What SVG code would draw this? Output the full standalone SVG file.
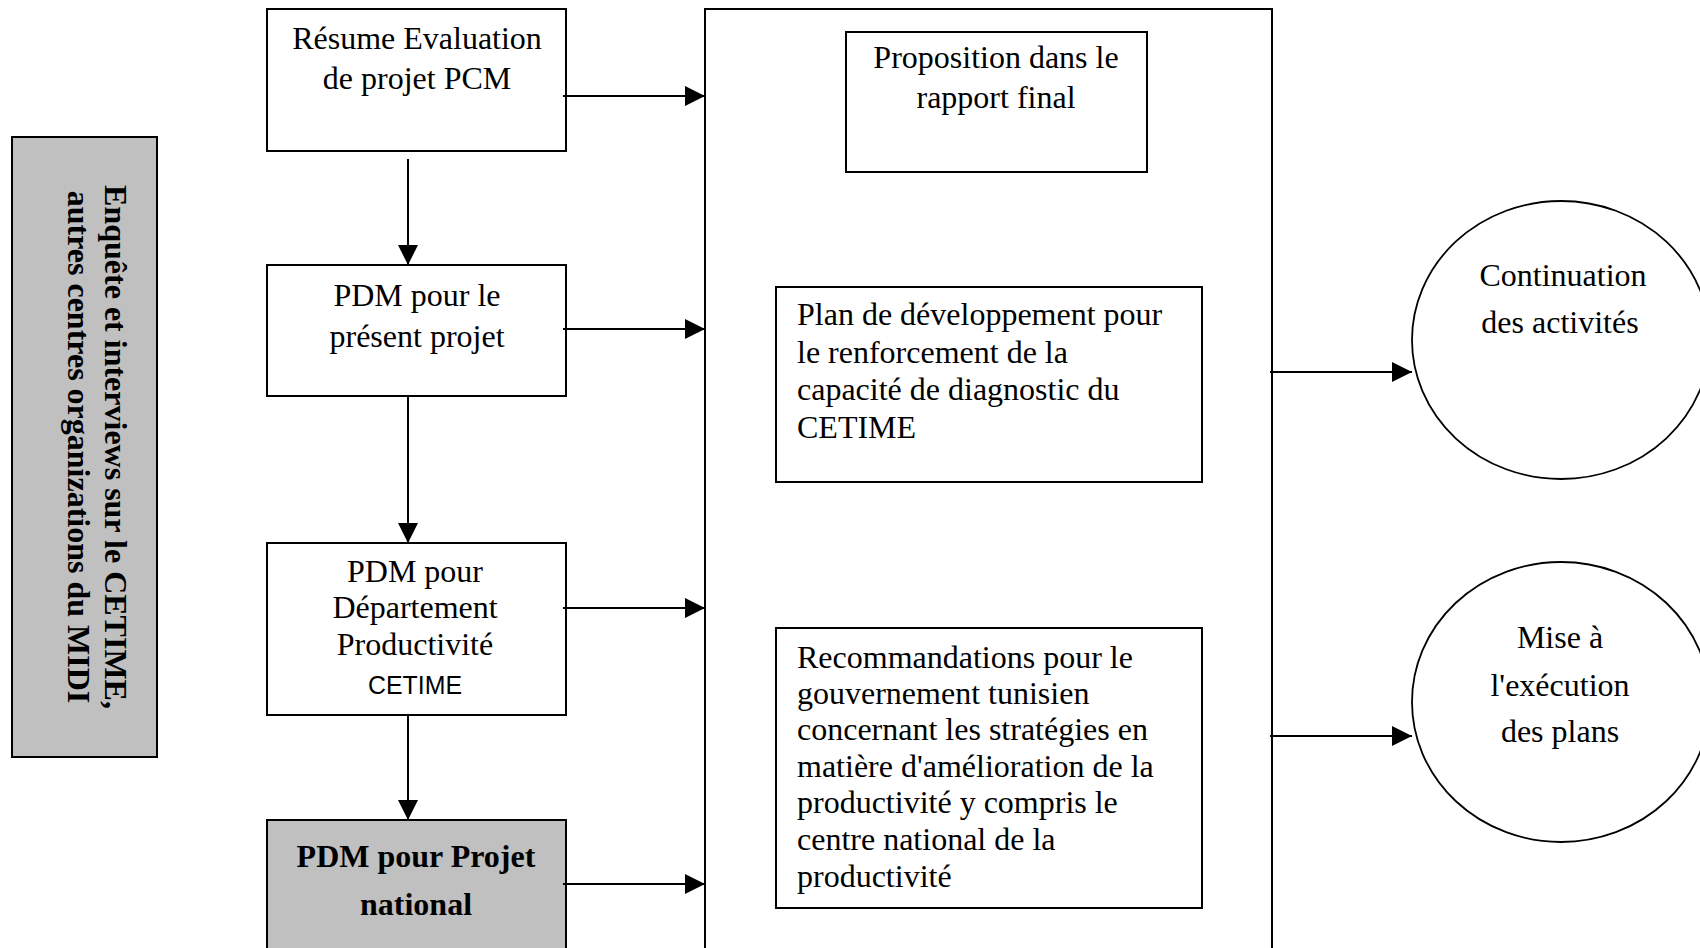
<svg xmlns="http://www.w3.org/2000/svg" width="1700" height="948" viewBox="0 0 1700 948">
<style>
.box{fill:#ffffff;stroke:#000000;stroke-width:2}
.gray{fill:#c0c0c0;stroke:#000000;stroke-width:2}
.ell{fill:#ffffff;stroke:#000000;stroke-width:1.8}
.t{font-family:"Liberation Serif","Times New Roman",serif;font-size:32px;fill:#000000}
.c{text-anchor:middle}
.b{font-weight:bold}
.conn line{stroke:#000000;stroke-width:2;fill:none}
</style>
<defs>
<marker id="arr" viewBox="0 0 20 20" refX="20" refY="10" markerWidth="20" markerHeight="20" markerUnits="userSpaceOnUse" orient="auto">
<path d="M0,0 L20,10 L0,20 Z" fill="#000000"/>
</marker>
</defs>
<rect width="1700" height="948" fill="#ffffff"/>

<g id="side">
<rect class="gray" x="12" y="137" width="145" height="620"/>
<text class="t b c" transform="translate(105,447) rotate(90)">Enquête et interviews sur le CETIME,</text>
<text class="t b c" transform="translate(68,447) rotate(90)">autres centres organizations du MIDI</text>
</g>

<g id="main">
<path class="box" d="M705,960 V9 H1272 V960"/>
</g>

<g id="n1">
<rect class="box" x="267" y="9" width="299" height="142"/>
<text class="t c" x="417" y="49">Résume Evaluation</text>
<text class="t c" x="417" y="89">de projet PCM</text>
</g>

<g id="n2">
<rect class="box" x="267" y="265" width="299" height="131"/>
<text class="t c" x="417" y="306">PDM pour le</text>
<text class="t c" x="417" y="347">présent projet</text>
</g>

<g id="n3">
<rect class="box" x="267" y="543" width="299" height="172"/>
<text class="t c" x="415" y="582">PDM pour</text>
<text class="t c" x="415" y="618">Département</text>
<text class="t c" x="415" y="655">Productivité</text>
<text class="c" x="415" y="694" font-family="Liberation Sans, Arial, sans-serif" font-size="26" textLength="94" lengthAdjust="spacingAndGlyphs">CETIME</text>
</g>

<g id="n4">
<rect class="gray" x="267" y="820" width="299" height="140"/>
<text class="t b c" x="416" y="867">PDM pour Projet</text>
<text class="t b c" x="416" y="915">national</text>
</g>

<g id="prop">
<rect class="box" x="846" y="32" width="301" height="140"/>
<text class="t c" x="996" y="68">Proposition dans le</text>
<text class="t c" x="996" y="108">rapport final</text>
</g>

<g id="plan">
<rect class="box" x="776" y="287" width="426" height="195"/>
<text class="t" x="797" y="325">Plan de développement pour</text>
<text class="t" x="797" y="363">le renforcement de la</text>
<text class="t" x="797" y="400">capacité de diagnostic du</text>
<text class="t" x="797" y="438">CETIME</text>
</g>

<g id="reco">
<rect class="box" x="776" y="628" width="426" height="280"/>
<text class="t" x="797" y="668">Recommandations pour le</text>
<text class="t" x="797" y="704">gouvernement tunisien</text>
<text class="t" x="797" y="740">concernant les stratégies en</text>
<text class="t" x="797" y="777">matière d'amélioration de la</text>
<text class="t" x="797" y="813">productivité y compris le</text>
<text class="t" x="797" y="850">centre national de la</text>
<text class="t" x="797" y="887">productivité</text>
</g>

<g id="cont">
<ellipse class="ell" cx="1561" cy="340" rx="149" ry="139"/>
<text class="t c" x="1563" y="286">Continuation</text>
<text class="t c" x="1560" y="333">des activités</text>
</g>

<g id="mise">
<ellipse class="ell" cx="1561" cy="702" rx="149" ry="140"/>
<text class="t c" x="1560" y="648">Mise à</text>
<text class="t c" x="1560" y="696">l'exécution</text>
<text class="t c" x="1560" y="742">des plans</text>
</g>

<g id="connectors" class="conn">
<line x1="408" y1="159" x2="408" y2="265" marker-end="url(#arr)"/>
<line x1="408" y1="396" x2="408" y2="543" marker-end="url(#arr)"/>
<line x1="408" y1="715" x2="408" y2="820" marker-end="url(#arr)"/>
<line x1="563" y1="96" x2="705" y2="96" marker-end="url(#arr)"/>
<line x1="563" y1="329" x2="705" y2="329" marker-end="url(#arr)"/>
<line x1="563" y1="608" x2="705" y2="608" marker-end="url(#arr)"/>
<line x1="563" y1="884" x2="705" y2="884" marker-end="url(#arr)"/>
<line x1="1270" y1="372" x2="1412" y2="372" marker-end="url(#arr)"/>
<line x1="1270" y1="736" x2="1412" y2="736" marker-end="url(#arr)"/>
</g>
</svg>
